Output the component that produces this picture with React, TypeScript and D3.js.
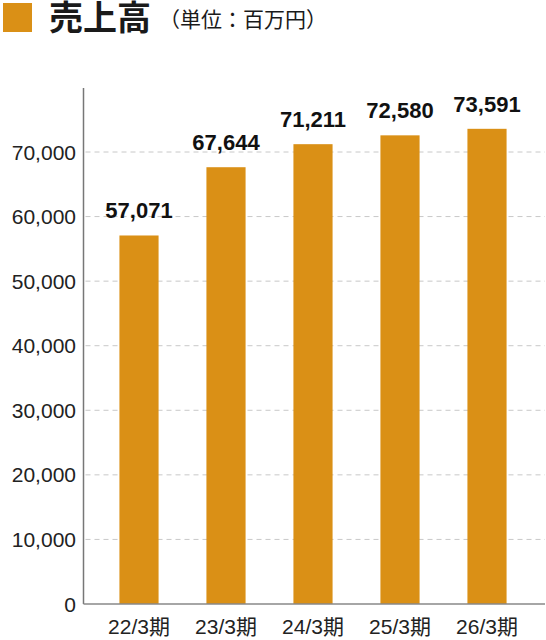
import React from "react";
import * as d3 from "d3";

const categories = ["22/3期", "23/3期", "24/3期", "25/3期", "26/3期"];
const salesValues = [57071, 67644, 71211, 72580, 73591];
const yTicks = [0, 10000, 20000, 30000, 40000, 50000, 60000, 70000];
const titleMain = "売上高";
const titleUnit = "（単位：百万円）";

const W = 546;
const H = 640;
const BAR = "#DA9016";
const FONT = "'Liberation Sans', Arial, 'Noto Sans CJK JP', sans-serif";
const JFONT = "'Noto Sans CJK JP', sans-serif";

export default function App() {
  const x = d3
    .scaleBand<string>()
    .domain(categories)
    .range([95.5, 530.5])
    .paddingInner(0.55)
    .paddingOuter(0.275);
  const y = d3.scaleLinear().domain([0, 70000]).range([604, 152]);
  const fmt = d3.format(",");
  const axisX = 83.5;
  const rightX = 545;

  return (
    <svg
      width={W}
      height={H}
      style={{ position: "absolute", left: 0, top: 0, background: "#fff" }}
    >
      <rect x={3} y={3} width={29} height={29} fill={BAR} />
      <text
        x={49}
        y={30}
        fontFamily={JFONT}
        fontSize={34}
        fontWeight={700}
        fill="#1a1a1a"
      >
        {titleMain}
      </text>
      <text
        x={159}
        y={27}
        fontFamily={JFONT}
        fontSize={21}
        fill="#1a1a1a"
      >
        {titleUnit}
      </text>

      {yTicks
        .filter((t) => t > 0)
        .map((t) => (
          <line
            key={"g" + t}
            x1={axisX + 2}
            x2={rightX}
            y1={y(t)}
            y2={y(t)}
            stroke="#c8c8c8"
            strokeWidth={1}
            strokeDasharray="5,4"
          />
        ))}

      {yTicks.map((t) => (
        <text
          key={"t" + t}
          x={76}
          y={y(t)}
          dy="0.36em"
          textAnchor="end"
          fontFamily={FONT}
          fontSize={21}
          fill="#222"
        >
          {fmt(t)}
        </text>
      ))}

      {categories.map((c, i) => (
        <g key={c}>
          <rect
            x={x(c)}
            y={y(salesValues[i])}
            width={x.bandwidth()}
            height={y(0) - y(salesValues[i])}
            fill={BAR}
          />
          <text
            x={(x(c) as number) + x.bandwidth() / 2}
            y={y(salesValues[i]) - 17}
            textAnchor="middle"
            fontFamily={FONT}
            fontSize={22}
            fontWeight={700}
            fill="#111"
          >
            {fmt(salesValues[i])}
          </text>
          <text
            x={(x(c) as number) + x.bandwidth() / 2}
            y={634}
            textAnchor="middle"
            fontFamily={FONT}
            fontSize={21}
            fill="#222"
          >
            {c}
          </text>
        </g>
      ))}

      <line x1={axisX} x2={axisX} y1={88} y2={604} stroke="#777" strokeWidth={1.5} />
      <line x1={axisX} x2={rightX} y1={604} y2={604} stroke="#888" strokeWidth={1.5} />
    </svg>
  );
}
